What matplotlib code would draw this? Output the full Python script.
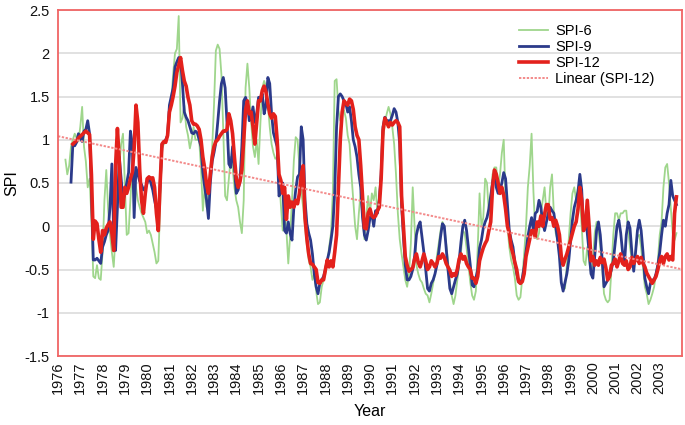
import numpy as np
import matplotlib
matplotlib.use('Agg')
import matplotlib.pyplot as plt

plt.rcParams['font.family'] = ['Liberation Sans', 'DejaVu Sans']

# monthly values, month 0 = Jan 1976
years = list(range(1976, 2004))

spi6_start = 4
spi6 = [0.77, 0.6, 0.7, 0.92, 1.0, 1.07,
        1.02, 0.98, 1.15, 1.38, 0.92, 0.75, 0.45, 0.55, 0.1, -0.58,
        -0.6, -0.45, -0.6, -0.62, -0.3, 0.3, 0.65, 0.2, -0.1, -0.3,
        -0.47, -0.1, 0.45, 0.7, 0.95, 1.07, 0.5, -0.1, -0.08, 0.3,
        0.7, 0.6, 0.45, 0.3, 0.22, 0.15, 0.1, 0.05, -0.08, -0.05,
        -0.1, -0.2, -0.3, -0.43, -0.4, 0.25, 0.9, 0.95, 0.97, 1.05,
        1.25, 1.45, 1.76, 2.0, 2.05, 2.43, 1.2, 1.25, 1.4, 1.15,
        1.05, 0.9, 1.0, 1.15, 1.0, 1.0, 1.0, 0.68, 0.18, 0.45,
        0.22, 0.45, 0.62, 0.9, 1.4, 2.03, 2.1, 2.05, 1.75, 1.1,
        0.35, 0.3, 0.55, 0.8, 0.68, 0.45, 0.3, 0.22, 0.05, -0.08,
        0.3, 1.6, 1.88, 1.6, 1.2, 0.92, 0.8, 1.0, 0.72, 1.2,
        1.6, 1.68, 1.62, 1.42, 1.15, 0.95, 0.85, 0.78, 0.8, 0.6,
        0.25, -0.05, 0.2, -0.05, -0.43, -0.1, 0.3, 0.76, 1.03, 1.0,
        0.68, 0.4, 0.22, 0.0, -0.22, -0.39, -0.47, -0.62, -0.55, -0.75,
        -0.9, -0.88, -0.7, -0.62, -0.55, -0.42, -0.24, -0.08, 0.4, 1.68,
        1.7, 1.34, 1.22, 1.3, 1.34, 1.25, 1.05, 0.95, 0.6, 0.3,
        0.0, -0.15, 0.15, 0.4, 0.1, -0.15, 0.1, 0.35, 0.15, 0.38,
        0.3, 0.45, 0.15, 0.38, 0.6, 1.0, 1.2, 1.3, 1.38, 1.3,
        1.15, 0.95, 0.6, 0.15, -0.15, -0.32, -0.47, -0.62, -0.7, -0.55,
        -0.2, 0.45, 0.0, -0.45, -0.55, -0.62, -0.65, -0.72, -0.78, -0.8,
        -0.88, -0.78, -0.66, -0.55, -0.35, -0.2, -0.05, 0.05, 0.0, -0.2,
        -0.4, -0.65, -0.8, -0.9, -0.8, -0.62, -0.45, -0.3, -0.05, -0.08,
        -0.25, -0.45, -0.65, -0.8, -0.85, -0.75, -0.25, 0.38, 0.0, 0.1,
        0.55, 0.5, 0.15, 0.35, 0.6, 0.68, 0.68, 0.45, 0.6, 0.85,
        1.0, 0.3, 0.0, -0.24, -0.39, -0.47, -0.6, -0.8, -0.85, -0.82,
        -0.6, -0.32, 0.0, 0.45, 0.7, 1.07, 0.4, -0.05, -0.15, -0.08,
        0.15, 0.3, 0.45, 0.15, 0.1, 0.45, 0.6, 0.15, -0.08, -0.16,
        -0.32, -0.65, -0.72, -0.72, -0.45, -0.16, 0.15, 0.38, 0.45, 0.3,
        0.45, 0.3, 0.0, -0.4, -0.45, -0.24, -0.4, -0.55, -0.4, -0.08,
        0.05, -0.05, -0.24, -0.47, -0.78, -0.85, -0.88, -0.85, -0.5, -0.1,
        0.15, 0.15, 0.07, 0.15, 0.15, 0.18, 0.18, -0.05, -0.24, -0.39,
        -0.47, -0.3, -0.12, -0.1, -0.25, -0.47, -0.7, -0.78, -0.9, -0.85,
        -0.78, -0.7, -0.55, -0.4, -0.1, 0.05, 0.45, 0.68, 0.72, 0.5,
        0.2, -0.08, -0.16, -0.08]

spi9_start = 7
spi9 = [0.51, 0.95, 0.93,
        0.97, 1.07, 1.03, 0.98, 1.1, 1.12, 1.22, 1.07, 0.4, -0.39,
        -0.39, -0.37, -0.4, -0.43, -0.24, -0.18, -0.1, -0.05, 0.22, 0.72,
        -0.08, -0.28, 0.22, 0.8, 0.55, 0.3, 0.38, 0.5, 0.62, 1.1,
        0.95, 0.1, 0.68, 0.6, 0.52, 0.48, 0.42, 0.44, 0.5, 0.57,
        0.5, 0.42, 0.3, 0.2, 0.08, 0.49, 0.95, 0.97, 1.0, 1.05,
        1.4, 1.5, 1.6, 1.84, 1.9, 1.95, 1.92, 1.65, 1.32, 1.26,
        1.22, 1.15, 1.08, 1.07, 1.1, 1.08, 1.0, 0.92, 0.62, 0.45,
        0.3, 0.09, 0.5, 0.75, 0.85, 0.97, 1.2, 1.45, 1.65, 1.72,
        1.6, 1.2, 0.72, 0.68, 0.92, 0.68, 0.38, 0.42, 0.53, 0.92,
        1.45, 1.49, 1.42, 1.22, 1.26, 1.38, 1.2, 1.3, 1.49, 1.49,
        1.53, 1.3, 1.4, 1.72, 1.65, 1.3, 1.08, 1.0, 0.92, 0.35,
        0.4, 0.5, -0.05, -0.08, 0.05, -0.08, -0.16, 0.22, 0.42, 0.57,
        0.6, 1.15, 1.0, 0.3, 0.03, -0.08, -0.16, -0.32, -0.55, -0.7,
        -0.78, -0.66, -0.62, -0.58, -0.5, -0.39, -0.3, -0.16, 0.0, 0.4,
        1.15, 1.5, 1.53, 1.5, 1.45, 1.42, 1.32, 1.38, 1.22, 1.0,
        0.92, 0.8, 0.6, 0.45, 0.1, -0.1, -0.16, -0.05, 0.1, 0.14,
        0.0, 0.18, 0.15, 0.3, 0.6, 1.15, 1.26, 1.22, 1.22, 1.22,
        1.28, 1.36, 1.32, 1.2, 0.95, 0.25, -0.12, -0.45, -0.62, -0.62,
        -0.58, -0.5, -0.35, -0.1, 0.0, 0.05, -0.12, -0.3, -0.5, -0.72,
        -0.75, -0.66, -0.62, -0.55, -0.45, -0.3, -0.12, 0.03, 0.0, -0.25,
        -0.5, -0.72, -0.78, -0.7, -0.62, -0.55, -0.4, -0.18, 0.0, 0.07,
        -0.05, -0.25, -0.45, -0.68, -0.7, -0.6, -0.5, -0.25, -0.16, -0.02,
        0.05, 0.1, 0.2, 0.35, 0.5, 0.62, 0.45, 0.38, 0.42, 0.5,
        0.62, 0.55, 0.25, -0.05, -0.16, -0.24, -0.42, -0.55, -0.64, -0.66,
        -0.6, -0.47, -0.3, -0.12, 0.0, 0.1, -0.05, 0.15, 0.17, 0.3,
        0.22, 0.05, -0.05, 0.05, 0.15, 0.22, 0.18, 0.15, 0.0, -0.16,
        -0.35, -0.65, -0.75, -0.65, -0.55, -0.4, -0.16, 0.07, 0.22, 0.3,
        0.4, 0.6, 0.42, -0.05, 0.1, -0.08, -0.3, -0.55, -0.6, -0.35,
        -0.05, 0.05, -0.1, -0.38, -0.7, -0.66, -0.62, -0.58, -0.5, -0.4,
        -0.2, 0.0, 0.07, -0.08, -0.3, -0.45, -0.1, 0.05, -0.02, -0.3,
        -0.52, -0.3, -0.05, 0.07, -0.05, -0.3, -0.6, -0.7, -0.78, -0.66,
        -0.62, -0.62, -0.55, -0.45, -0.3, -0.1, 0.07, 0.0, 0.15, 0.25,
        0.53, 0.35, 0.3, 0.25]

spi12_start = 8
spi12 = [0.95, 0.97, 0.99, 1.02, 1.04, 1.06, 1.08, 1.10, 1.08, 1.06, 0.6, -0.15,
         0.06, 0.03, -0.15, -0.3, -0.05, -0.1, -0.02, 0.02, 0.05, -0.08,
         -0.28, 0.7, 1.13, 0.75, 0.22, 0.22, 0.45, 0.38, 0.45, 0.55,
         0.62, 0.9, 1.4, 1.2, 0.65, 0.3, 0.15, 0.38, 0.55, 0.57,
         0.55, 0.56, 0.45, 0.15, -0.05, 0.5, 0.95, 0.98, 0.97, 1.05,
         1.32, 1.4, 1.5, 1.62, 1.78, 1.86, 1.95, 1.8, 1.68, 1.62,
         1.49, 1.4, 1.22, 1.18, 1.18, 1.16, 1.12, 1.0, 0.8, 0.67,
         0.48, 0.38, 0.6, 0.8, 0.92, 0.98, 1.0, 1.04, 1.07, 1.1,
         1.1, 1.12, 1.3, 1.22, 1.07, 0.8, 0.55, 0.45, 0.52, 0.65,
         1.0, 1.34, 1.45, 1.3, 1.32, 1.15, 0.95, 1.2, 1.45, 1.45,
         1.57, 1.62, 1.55, 1.42, 1.3, 1.25, 1.3, 1.27, 1.0, 0.6,
         0.53, 0.38, 0.45, 0.08, 0.35, 0.22, 0.28, 0.22, 0.3, 0.26,
         0.38, 0.6, 0.7, 0.1, -0.14, -0.32, -0.43, -0.44, -0.47, -0.5,
         -0.65, -0.66, -0.62, -0.62, -0.5, -0.39, -0.47, -0.4, -0.47, -0.3,
         -0.1, 0.45, 1.0, 1.32, 1.45, 1.42, 1.4, 1.47, 1.45, 1.35,
         1.15, 1.05, 1.0, 0.7, 0.35, -0.02, -0.03, 0.15, 0.2, 0.12,
         0.1, 0.12, 0.18, 0.22, 0.55, 1.1, 1.25, 1.2, 1.15, 1.2,
         1.17, 1.2, 1.22, 1.2, 1.15, 0.35, 0.0, -0.35, -0.45, -0.52,
         -0.5, -0.48, -0.38, -0.32, -0.42, -0.47, -0.4, -0.32, -0.4, -0.5,
         -0.47, -0.4, -0.43, -0.47, -0.43, -0.35, -0.37, -0.32, -0.36, -0.43,
         -0.47, -0.51, -0.58, -0.55, -0.57, -0.5, -0.38, -0.32, -0.38, -0.35,
         -0.43, -0.47, -0.5, -0.6, -0.6, -0.66, -0.58, -0.4, -0.32, -0.25,
         -0.2, -0.16, -0.05, 0.05, 0.45, 0.65, 0.6, 0.5, 0.38, 0.45,
         0.36, 0.2, 0.0, -0.08, -0.24, -0.32, -0.42, -0.5, -0.64, -0.66,
         -0.64, -0.55, -0.35, -0.25, -0.15, -0.05, -0.05, -0.12, 0.05, 0.0,
         0.12, 0.0, 0.14, 0.25, 0.25, 0.08, 0.1, 0.0, 0.07, 0.0,
         -0.1, -0.35, -0.45, -0.38, -0.32, -0.24, -0.16, -0.08, 0.0, 0.05,
         0.2, 0.45, 0.3, -0.05, 0.0, 0.3, 0.0, -0.4, -0.35, -0.45,
         -0.4, -0.45, -0.36, -0.42, -0.38, -0.48, -0.62, -0.58, -0.45, -0.43,
         -0.38, -0.47, -0.4, -0.32, -0.43, -0.45, -0.4, -0.5, -0.47, -0.36,
         -0.43, -0.39, -0.35, -0.43, -0.36, -0.43, -0.47, -0.54, -0.58, -0.62,
         -0.66, -0.62, -0.58, -0.5, -0.4, -0.35, -0.43, -0.35, -0.32, -0.39,
         -0.35, -0.39, 0.15, 0.34]

n_months = 12 * len(years)

x6 = np.arange(spi6_start, spi6_start + len(spi6))
x9 = np.arange(spi9_start, spi9_start + len(spi9))
x12 = np.arange(spi12_start, spi12_start + len(spi12))

# linear trend of SPI-12
coef = np.polyfit(x12, spi12, 1)
xt = np.array([0, n_months])

fig = plt.figure(figsize=(6.85, 4.25), dpi=100)
ax = fig.add_axes([58 / 685, 1 - 356 / 425, 624 / 685, 346 / 425])

for y in np.arange(-1.5, 2.51, 0.5):
    ax.axhline(y, color='#dcdcdc', lw=1.2, zorder=0)

ax.plot(x6, spi6, color='#9fd68c', lw=1.3, label='SPI-6')
ax.plot(x9, spi9, color='#2b3a8a', lw=2.0, label='SPI-9')
ax.plot(x12, spi12, color='#e3211c', lw=2.6, label='SPI-12')
ax.plot(xt, np.polyval(coef, xt), color='#f38a8a', lw=1.4,
        linestyle=(0, (1.2, 0.8)), label='Linear (SPI-12)')

ax.set_xlim(0, n_months)
ax.set_ylim(-1.5, 2.5)
ax.set_yticks(np.arange(-1.5, 2.51, 0.5))
ax.set_yticklabels(['-1.5', '-1', '-0.5', '0', '0.5', '1', '1.5', '2', '2.5'])
ax.set_xticks([12 * i for i in range(len(years))])
ax.set_xticklabels([str(y) for y in years], rotation=90)
ax.tick_params(length=0, labelsize=10.5, colors='#111111')
ax.tick_params(axis='y', pad=6)
ax.tick_params(axis='x', pad=4)

for s in ax.spines.values():
    s.set_color('#f06464')
    s.set_linewidth(1.3)

ax.set_xlabel('Year', fontsize=11.5, labelpad=7)
ax.set_ylabel('SPI', fontsize=11.5, labelpad=4)

ax.legend(loc='upper left', bbox_to_anchor=(0.722, 0.99), frameon=False,
          fontsize=10.5, handlelength=2.0, labelspacing=0.15,
          handletextpad=0.5, borderpad=0.2)

plt.savefig('out.png', dpi=100)
